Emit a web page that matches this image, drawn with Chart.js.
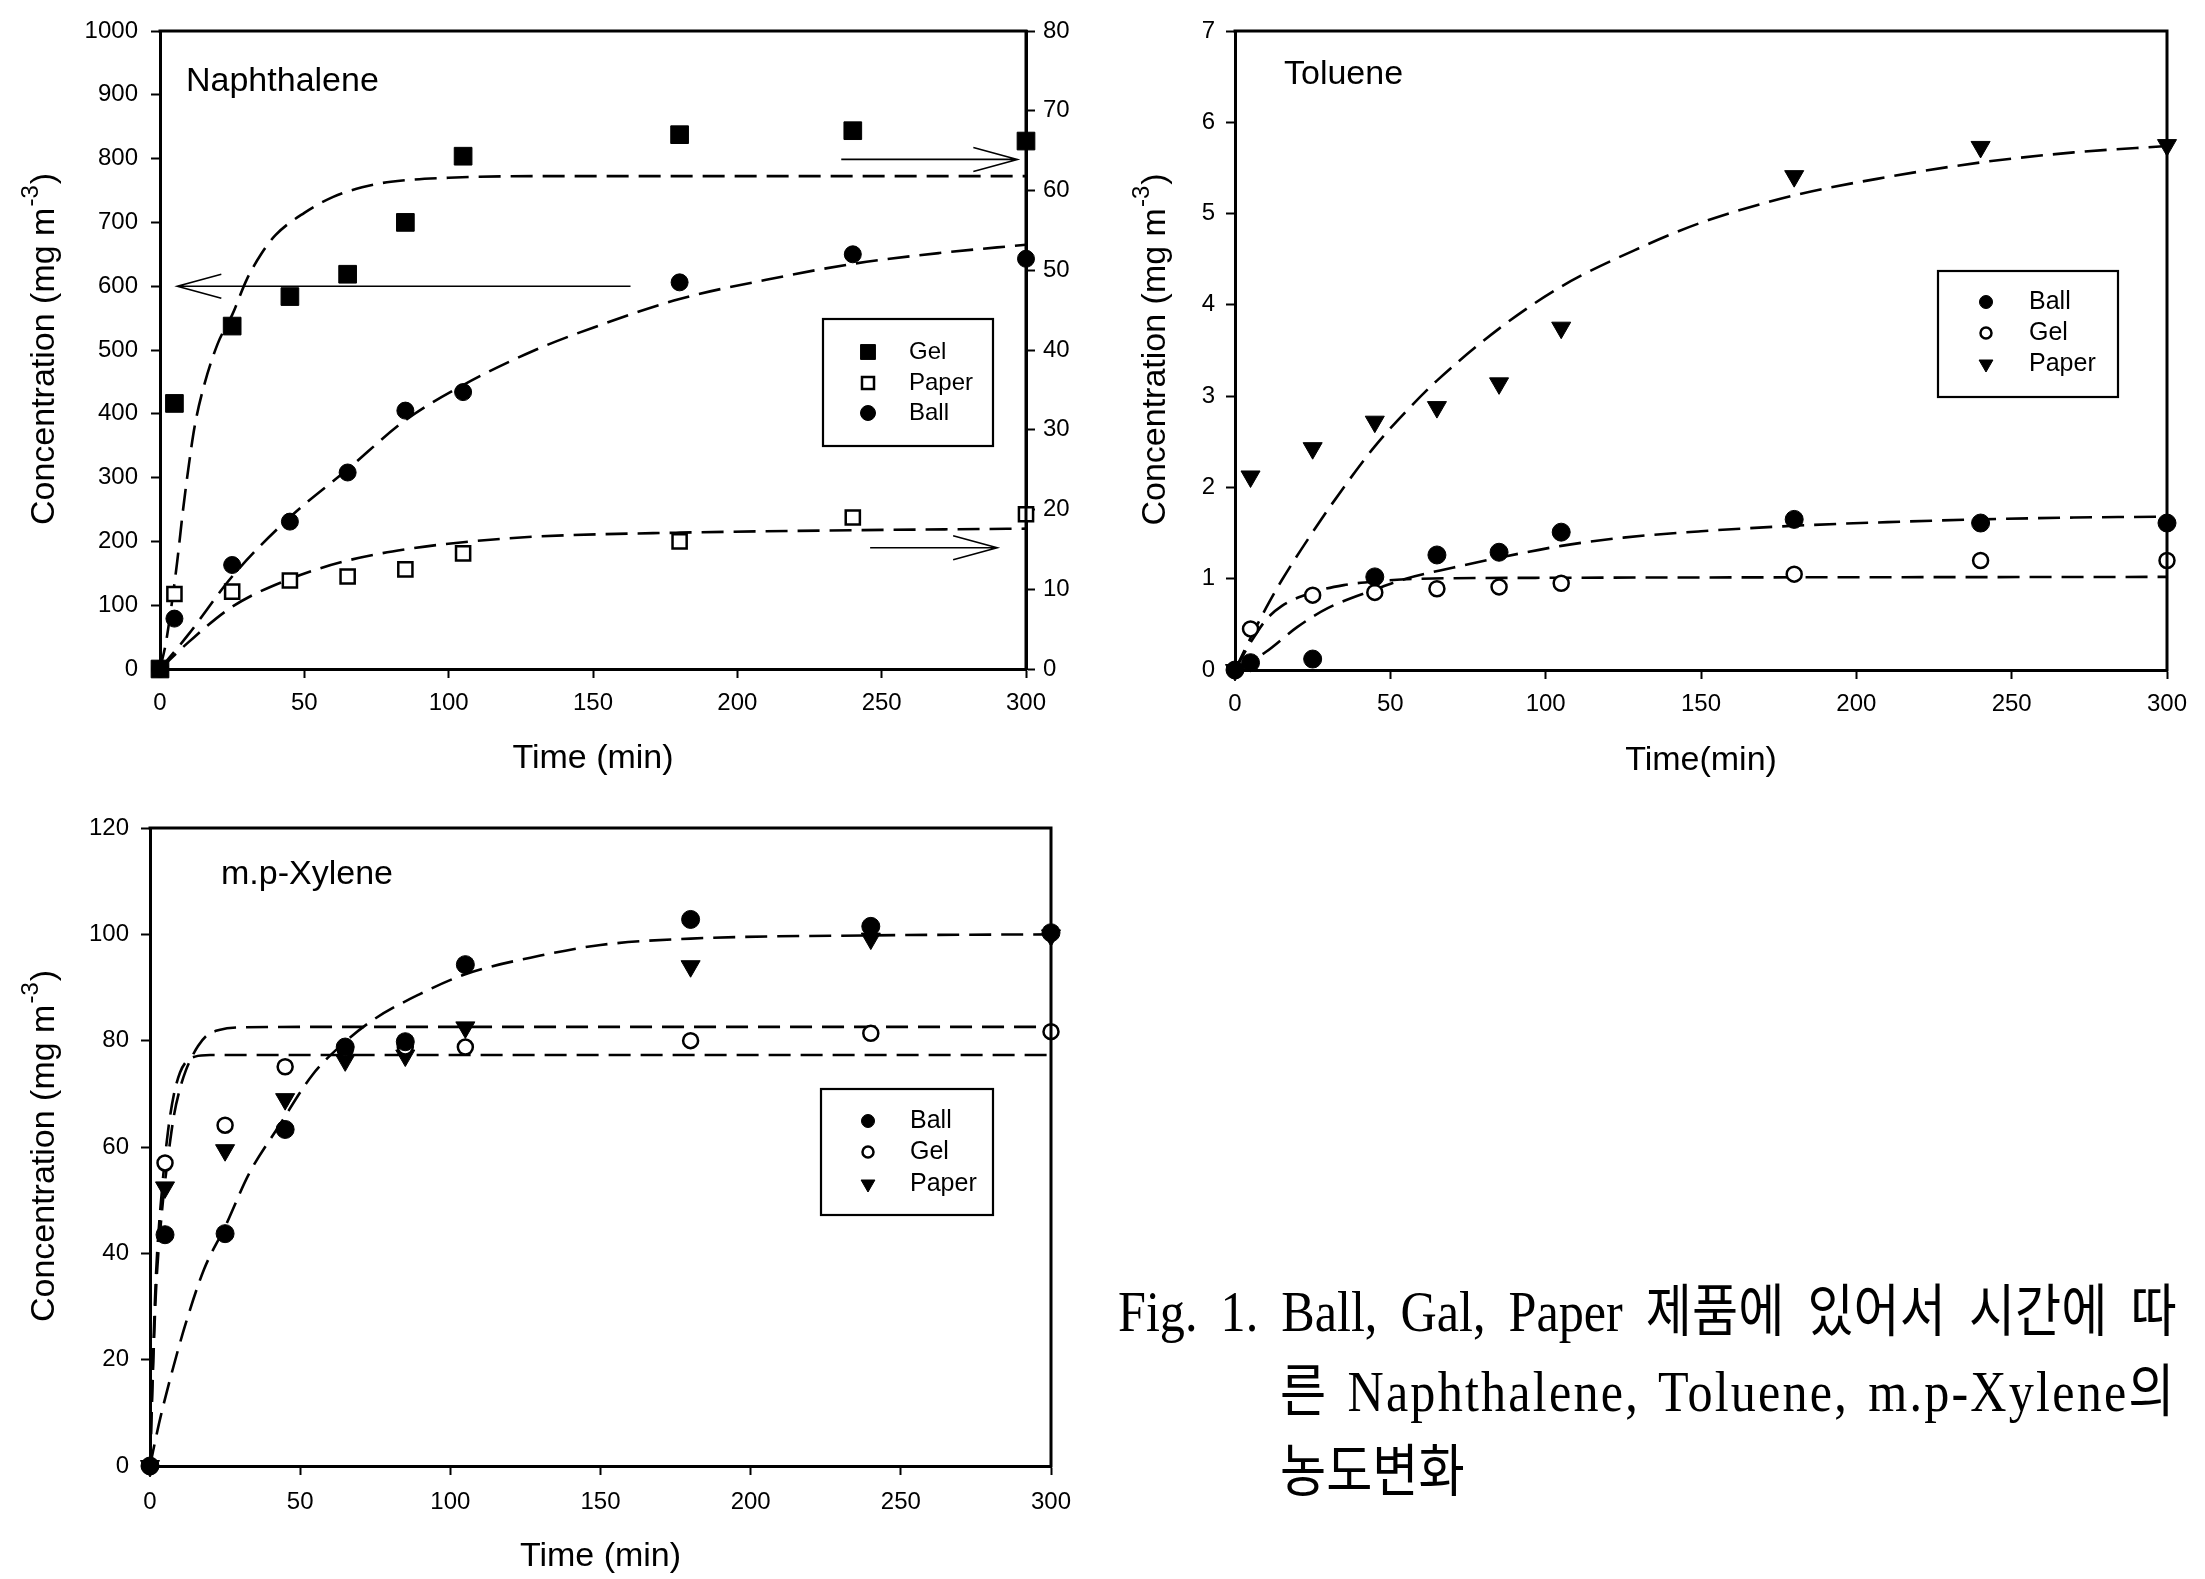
<!DOCTYPE html>
<html>
<head>
<meta charset="utf-8">
<script src="https://cdn.jsdelivr.net/npm/chart.js@4.4.1/dist/chart.umd.min.js"></script>
<style>
html, body { margin: 0; padding: 0; background: #fff; }
body { width: 2205px; height: 1579px; position: relative; overflow: hidden; }
canvas { position: absolute; }
.cap { position: absolute; transform: scaleX(0.88); transform-origin: 0 0; font-family: 'Liberation Serif', 'Noto Sans CJK KR', serif; font-size: 57px; line-height: 80px; color: #000; white-space: nowrap; }
.just { text-align: justify; text-align-last: justify; }
</style>
</head>
<body>
<canvas id="naph" width="1100" height="790" style="left:0;top:0"></canvas>
<canvas id="tolu" width="1105" height="790" style="left:1100px;top:0"></canvas>
<canvas id="xyle" width="1100" height="789" style="left:0;top:790px"></canvas>
<div class="cap just" style="left:1118px;top:1272px;width:1203px">Fig. 1. Ball, Gal, Paper 제품에 있어서 시간에 따</div>
<div class="cap just" style="left:1280px;top:1352px;width:1019px;letter-spacing:2.5px">른 Naphthalene, Toluene, m.p-Xylene의</div>
<div class="cap" style="left:1280px;top:1432px">농도변화</div>
<script>
const FONT = "'Liberation Sans', Arial, sans-serif";

// sampling times (min)
const times = [0, 5, 25, 45, 65, 85, 105, 180, 240, 300];

// Naphthalene - Ball on left axis (0-1000), Gel and Paper on right axis (0-80)
const naphBall = [0, 79, 163, 231, 308, 405, 434, 606, 650, 643];
const naphGel = [0, 33.3, 43.0, 46.7, 49.5, 56.0, 64.3, 67.0, 67.5, 66.2];
const naphPaper = [0, 9.4, 9.7, 11.1, 11.6, 12.5, 14.5, 16.0, 19.0, 19.4];
// fitted curves
const naphBallFitT = [0, 10, 25, 45, 65, 85, 105, 130, 150, 180, 210, 240, 270, 300];
const naphBallFit = [0, 55, 145, 238, 313, 390, 445, 500, 535, 580, 610, 635, 652, 665];
const naphGelFitT = [0, 2, 4, 6, 8, 10, 12, 15, 20, 25, 30, 35, 40, 50, 60, 70, 80, 100, 130, 200, 300];
const naphGelFit = [0, 3.2, 8, 13.6, 20, 25.6, 30.4, 35.2, 40.8, 44.4, 48.8, 52, 54.4, 57.2, 59.2, 60.4, 61.1, 61.6, 61.8, 61.8, 61.8];
const naphPaperFitT = [0, 10, 25, 45, 65, 85, 105, 130, 180, 240, 300];
const naphPaperFit = [0, 3.4, 7.8, 11.3, 13.6, 15.0, 15.9, 16.6, 17.1, 17.4, 17.6];
// arrows: which axis, level, from time -> to time
const naphArrows = [
    { axis: 'y', level: 600, from: 163, to: 6 },
    { axis: 'y2', level: 63.9, from: 236, to: 297 },
    { axis: 'y2', level: 15.2, from: 246, to: 290 }
];

// Toluene
const toluBall = [0, 0.08, 0.12, 1.02, 1.26, 1.29, 1.51, 1.65, 1.61, 1.61];
const toluGel = [0, 0.45, 0.82, 0.85, 0.89, 0.91, 0.95, 1.05, 1.2, 1.2];
const toluPaper = [0, 2.12, 2.43, 2.72, 2.88, 3.14, 3.75, 5.41, 5.73, 5.75];
const toluBallFitT = [0, 10, 20, 30, 45, 55, 70, 85, 105, 125, 150, 180, 210, 240, 270, 300];
const toluBallFit = [0, 0.2, 0.47, 0.68, 0.88, 1.0, 1.12, 1.23, 1.36, 1.45, 1.52, 1.58, 1.62, 1.65, 1.67, 1.68];
const toluGelFitT = [0, 5, 10, 15, 25, 35, 45, 60, 100, 300];
const toluGelFit = [0, 0.3, 0.55, 0.7, 0.85, 0.93, 0.97, 1.0, 1.01, 1.02];
const toluPaperFitT = [0, 5, 10, 15, 25, 35, 45, 55, 65, 85, 105, 130, 150, 180, 210, 240, 270, 300];
const toluPaperFit = [0, 0.35, 0.68, 0.98, 1.51, 2.0, 2.45, 2.83, 3.17, 3.74, 4.2, 4.62, 4.9, 5.2, 5.4, 5.56, 5.67, 5.74];

// m.p-Xylene
const xyleBall = [0, 43.5, 43.7, 63.3, 78.8, 79.8, 94.3, 102.8, 101.5, 100.3];
const xyleGel = [0, 57.0, 64.1, 75.1, 78.3, 78.8, 78.8, 80.0, 81.4, 81.7];
const xylePaper = [0, 52.4, 59.4, 69.0, 76.3, 77.2, 82.5, 94.0, 99.2, 99.8];
const xyleBallFitT = [0, 3, 7, 12, 18, 25, 33, 43, 54, 63, 74, 90, 105, 130, 150, 180, 240, 300];
const xyleBallFit = [0, 8, 17, 27, 37, 45, 55, 64, 73.5, 78.8, 83.8, 88.8, 92.5, 96, 98, 99.2, 99.8, 100];
const xyleGelFitT = [0, 1, 2, 4, 6, 8, 10, 12, 14, 16, 19, 23, 30, 60, 300];
const xyleGelFit = [0, 18, 33, 48, 58, 66, 71, 74.5, 77, 79, 81, 82, 82.5, 82.6, 82.6];
const xylePaperFitT = [0, 1, 2, 4, 6, 8, 10, 12, 15, 20, 300];
const xylePaperFit = [0, 20, 36, 52, 63, 70, 74, 76, 77, 77.3, 77.3];

const MARK = {
    gelSq:    { style: 'rect', r: 12.5, fill: '#000', bw: 1, lr: 10.5 },
    paperSq:  { style: 'rect', r: 10, fill: '#fff', bw: 2.5, lr: 8.5 },
    ballDot:  { style: 'circle', r: 8.5, fill: '#000', bw: 1, lr: 7.5 },
    ballDot2: { style: 'circle', r: 9, fill: '#000', bw: 1, lr: 6.5 },
    gelRing:  { style: 'circle', r: 7.5, fill: '#fff', bw: 2.5, lr: 5.5 },
    paperTri: { style: 'triangle', r: 11, fill: '#000', bw: 1, rot: 180, lr: 8 }
};

function pts(xs, ys) {
    return xs.map((x, i) => ({ x: x, y: ys[i] }));
}

function markerSet(label, ys, axis, m) {
    return {
        label: label, data: pts(times, ys), yAxisID: axis,
        showLine: false, order: 1, clip: false, mark: m,
        pointStyle: m.style, pointRadius: m.r, pointRotation: m.rot || 0,
        pointBackgroundColor: m.fill, pointBorderColor: '#000', pointBorderWidth: m.bw
    };
}

function fitSet(xs, ys, axis) {
    return {
        label: '', data: pts(xs, ys), yAxisID: axis,
        showLine: true, order: 2, pointRadius: 0,
        borderColor: '#000', borderWidth: 2.6, borderDash: [22, 10],
        cubicInterpolationMode: 'monotone', fill: false
    };
}

function yScale(min, max, step, position, width, pad) {
    return {
        type: 'linear', position: position, min: min, max: max,
        ticks: {
            stepSize: step, color: '#000', font: { family: FONT, size: 24 }, padding: pad,
            callback: function(v) { return String(v); }
        },
        grid: { drawOnChartArea: false, drawTicks: true, tickLength: 9, tickWidth: 2, tickColor: '#000' },
        border: { display: true, color: '#000', width: 3 },
        afterFit: function(s) { s.width = width; }
    };
}

function xScale(height, pad) {
    return {
        type: 'linear', position: 'bottom', min: 0, max: 300,
        ticks: {
            stepSize: 50, color: '#000', font: { family: FONT, size: 24 }, padding: pad, maxRotation: 0,
            callback: function(v) { return String(v); }
        },
        grid: { drawOnChartArea: false, drawTicks: true, tickLength: 9, tickWidth: 2, tickColor: '#000' },
        border: { display: true, color: '#000', width: 3 },
        afterFit: function(s) { s.height = height; }
    };
}

function drawMarker(ctx, m, r, x, y) {
    ctx.save();
    ctx.fillStyle = m.fill;
    ctx.strokeStyle = '#000';
    ctx.lineWidth = m.bw;
    ctx.beginPath();
    if (m.style === 'rect') {
        const h = r * Math.SQRT1_2;
        ctx.rect(x - h, y - h, 2 * h, 2 * h);
    } else if (m.style === 'triangle') {
        ctx.moveTo(x, y + r);
        ctx.lineTo(x - r * 0.866, y - r / 2);
        ctx.lineTo(x + r * 0.866, y - r / 2);
        ctx.closePath();
    } else {
        ctx.arc(x, y, r, 0, Math.PI * 2);
    }
    ctx.fill();
    ctx.stroke();
    ctx.restore();
}

const figureExtras = {
    id: 'figureExtras',
    afterDraw: function(chart, args, o) {
        const ctx = chart.ctx;
        const a = chart.chartArea;
        ctx.save();
        ctx.fillStyle = '#000';
        ctx.strokeStyle = '#000';

        // top / right frame
        ctx.lineWidth = 3;
        ctx.beginPath();
        ctx.moveTo(a.left - 1.5, a.top);
        ctx.lineTo(a.right, a.top);
        ctx.lineTo(a.right, a.bottom + 1.5);
        ctx.stroke();

        // panel name
        ctx.font = '34px ' + FONT;
        ctx.textBaseline = 'middle';
        ctx.textAlign = 'left';
        ctx.fillText(o.panel, a.left + o.panelAt[0], a.top + o.panelAt[1]);

        // x title
        ctx.textAlign = 'center';
        ctx.fillText(o.xTitle, (a.left + a.right) / 2, o.xTitleY);

        // y title with superscript
        ctx.save();
        ctx.translate(o.yTitleX, (a.top + a.bottom) / 2);
        ctx.rotate(-Math.PI / 2);
        ctx.textAlign = 'left';
        const main = 'Concentration (mg m', sup = '-3', close = ')';
        ctx.font = '34px ' + FONT;
        const w1 = ctx.measureText(main).width, w3 = ctx.measureText(close).width;
        ctx.font = '24px ' + FONT;
        const w2 = ctx.measureText(sup).width;
        const x = -(w1 + w2 + w3) / 2;
        ctx.font = '34px ' + FONT;
        ctx.fillText(main, x, 0);
        ctx.font = '24px ' + FONT;
        ctx.fillText(sup, x + w1 + 1, -14);
        ctx.font = '34px ' + FONT;
        ctx.fillText(close, x + w1 + w2 + 2, 0);
        ctx.restore();

        // arrows
        ctx.lineWidth = 1.6;
        (o.arrows || []).forEach(function(ar) {
            const xs = chart.scales.x;
            const y = chart.scales[ar.axis].getPixelForValue(ar.level);
            const x0 = xs.getPixelForValue(ar.from), x1 = xs.getPixelForValue(ar.to);
            const dir = x1 > x0 ? 1 : -1;
            ctx.beginPath();
            ctx.moveTo(x0, y);
            ctx.lineTo(x1, y);
            ctx.moveTo(x1 - dir * 44, y - 12);
            ctx.lineTo(x1, y);
            ctx.lineTo(x1 - dir * 44, y + 12);
            ctx.stroke();
        });

        // legend box
        const L = o.legend;
        ctx.lineWidth = 2.2;
        ctx.fillStyle = '#fff';
        ctx.fillRect(L.box[0], L.box[1], L.box[2] - L.box[0], L.box[3] - L.box[1]);
        ctx.strokeRect(L.box[0], L.box[1], L.box[2] - L.box[0], L.box[3] - L.box[1]);
        const entries = chart.data.datasets.filter(function(d) { return d.mark; });
        ctx.font = L.size + 'px ' + FONT;
        ctx.textAlign = 'left';
        ctx.textBaseline = 'middle';
        entries.forEach(function(d, i) {
            drawMarker(ctx, d.mark, d.mark.lr, L.symX, L.rows[i]);
            ctx.fillStyle = '#000';
            ctx.fillText(d.label, L.textX, L.rows[i]);
        });
        ctx.restore();
    }
};

function makeChart(id, datasets, scales, padding, extras) {
    return new Chart(document.getElementById(id), {
        type: 'scatter',
        data: { datasets: datasets },
        options: {
            responsive: false,
            animation: false,
            events: [],
            layout: { padding: padding },
            scales: scales,
            plugins: {
                legend: { display: false },
                tooltip: { enabled: false },
                figureExtras: extras
            }
        },
        plugins: [figureExtras]
    });
}

makeChart('naph', [
    markerSet('Gel', naphGel, 'y2', MARK.gelSq),
    markerSet('Paper', naphPaper, 'y2', MARK.paperSq),
    markerSet('Ball', naphBall, 'y', MARK.ballDot),
    fitSet(naphGelFitT, naphGelFit, 'y2'),
    fitSet(naphPaperFitT, naphPaperFit, 'y2'),
    fitSet(naphBallFitT, naphBallFit, 'y')
], {
    x: xScale(121, 11),
    y: yScale(0, 1000, 100, 'left', 160, 13),
    y2: yScale(0, 80, 10, 'right', 74, 8)
}, { top: 31, left: 0, right: 0, bottom: 0 }, {
    panel: 'Naphthalene', panelAt: [26, 51],
    xTitle: 'Time (min)', xTitleY: 759, yTitleX: 45,
    arrows: naphArrows,
    legend: { box: [823, 319, 993, 446], symX: 868, textX: 909, rows: [352, 383, 413], size: 24 }
});

makeChart('tolu', [
    markerSet('Ball', toluBall, 'y', MARK.ballDot2),
    markerSet('Gel', toluGel, 'y', MARK.gelRing),
    markerSet('Paper', toluPaper, 'y', MARK.paperTri),
    fitSet(toluBallFitT, toluBallFit, 'y'),
    fitSet(toluGelFitT, toluGelFit, 'y'),
    fitSet(toluPaperFitT, toluPaperFit, 'y')
], {
    x: xScale(120, 11),
    y: yScale(0, 7, 1, 'left', 135, 11)
}, { top: 31, left: 0, right: 38, bottom: 0 }, {
    panel: 'Toluene', panelAt: [49, 44],
    xTitle: 'Time(min)', xTitleY: 761, yTitleX: 56,
    legend: { box: [838, 271, 1018, 397], symX: 886, textX: 929, rows: [302, 333, 364], size: 25 }
});

makeChart('xyle', [
    markerSet('Ball', xyleBall, 'y', MARK.ballDot2),
    markerSet('Gel', xyleGel, 'y', MARK.gelRing),
    markerSet('Paper', xylePaper, 'y', MARK.paperTri),
    fitSet(xyleBallFitT, xyleBallFit, 'y'),
    fitSet(xyleGelFitT, xyleGelFit, 'y'),
    fitSet(xylePaperFitT, xylePaperFit, 'y')
], {
    x: xScale(113, 13),
    y: yScale(0, 120, 20, 'left', 150, 12)
}, { top: 38, left: 0, right: 49, bottom: 0 }, {
    panel: 'm.p-Xylene', panelAt: [71, 47],
    xTitle: 'Time (min)', xTitleY: 767, yTitleX: 45,
    legend: { box: [821, 299, 993, 425], symX: 868, textX: 910, rows: [331, 362, 394], size: 25 }
});
</script>
</body>
</html>
